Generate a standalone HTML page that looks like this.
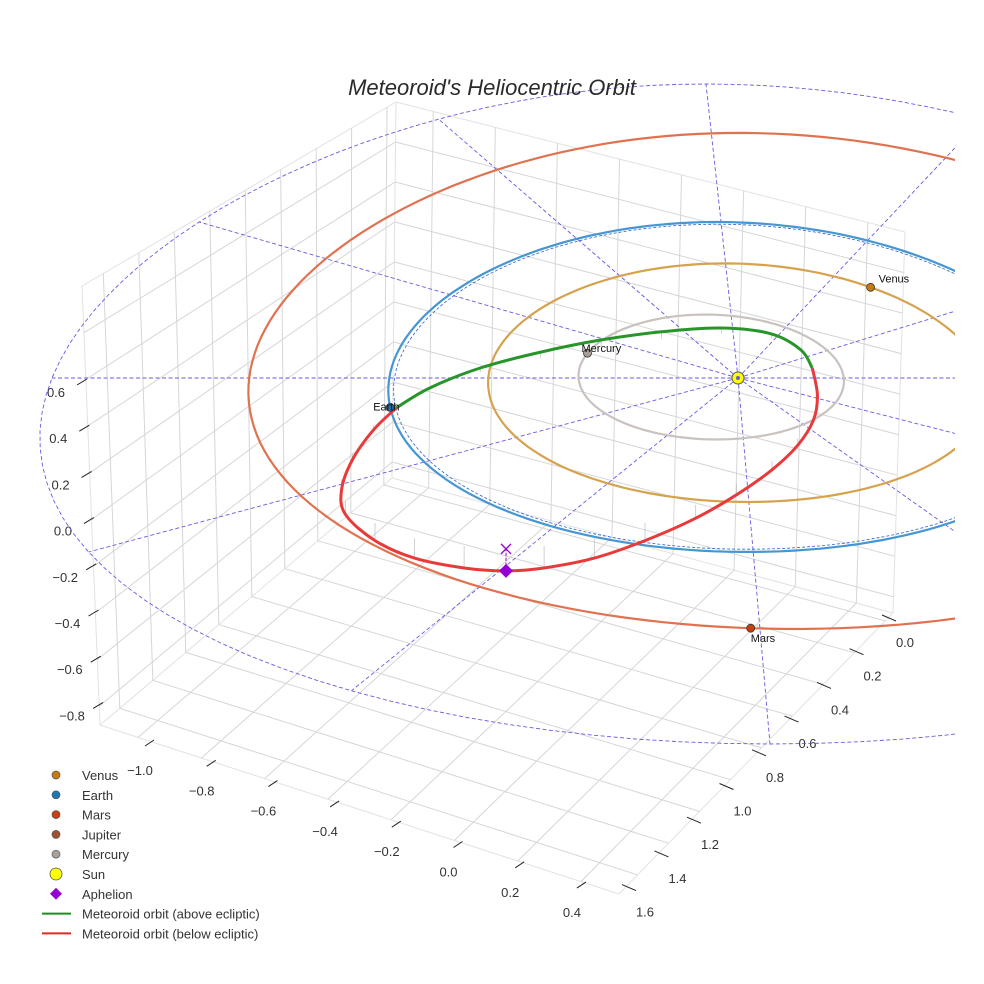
<!DOCTYPE html>
<html><head><meta charset="utf-8">
<style>
html,body{margin:0;padding:0;background:#fff;}
svg{display:block;font-family:"Liberation Sans",sans-serif;}
</style></head>
<body>
<svg id="chart" width="984" height="984" viewBox="0 0 984 984" xmlns="http://www.w3.org/2000/svg">
<defs><clipPath id="clipR"><rect x="0" y="0" width="955" height="984"/></clipPath></defs>
<rect x="0" y="0" width="984" height="984" fill="#fff"/>
<g id="box"></g>
<g id="ticks"></g>
<g id="plot" clip-path="url(#clipR)"></g>
<text x="492" y="95" text-anchor="middle" font-size="22" font-style="italic" fill="#2a2a2a">Meteoroid's Heliocentric Orbit</text>
<g id="legend"></g>
</svg>
<script>
// ---- axis data ----
const xTicks = [-1.0, -0.8, -0.6, -0.4, -0.2, 0.0, 0.2, 0.4];
const yTicks = [0.0, 0.2, 0.4, 0.6, 0.8, 1.0, 1.2, 1.4, 1.6];
const zTicks = [0.6, 0.4, 0.2, 0.0, -0.2, -0.4, -0.6, -0.8];
const zGrid = [-0.8, -0.6, -0.4, -0.2, 0.0, 0.2, 0.4, 0.6, 0.8];
// ---- planet data ----
const planetNames = ["Mercury", "Venus", "Earth", "Mars"];
const planetA = [0.387, 0.723, 1.0, 1.524];
const planetE = [0.2056, 0.0068, 0.0167, 0.0934];
const planetPeri = [350, 0, 0, 230];
const planetLon = [161, 52, 190, 269];
const orbitColors = ["#c9c2be", "#d6a24e", "#4596d2", "#e07250"];
const planetColors = ["#a89e98", "#c77a12", "#1f6fa8", "#c8400e"];
// ---- meteoroid orbit samples (ecliptic X, Y, Z in AU) ----
const metX = [-0.984,-0.895,-0.753,-0.578,-0.399,-0.218,-0.036,0.112,0.195,0.221,0.225,0.204,0.151,0.072,-0.031,-0.145,-0.282,-0.416,-0.547,-0.646,-0.756,-0.888,-0.997,-1.084,-1.105,-1.087,-1.041];
const metY = [-0.18,-0.074,0.034,0.118,0.193,0.243,0.274,0.244,0.157,0.06,-0.089,-0.225,-0.36,-0.49,-0.62,-0.74,-0.84,-0.925,-0.967,-0.983,-0.967,-0.925,-0.84,-0.72,-0.594,-0.446,-0.285];
const metZ = [0,0.01,0.02,0.03,0.03,0.03,0.025,0.02,0.01,0,-0.01,-0.02,-0.03,-0.04,-0.05,-0.06,-0.08,-0.09,-0.1,-0.1,-0.1,-0.09,-0.08,-0.06,-0.05,-0.03,-0.02];
const greenEnd = 9;
const aphelionIndex = 19;
const eclipticRadius = 2.0;
const radialAngles = [0,30,60,90,120,150,180,210,240,270,300,330];

const NS = "http://www.w3.org/2000/svg";
function mk(tag, attrs, parent){ const e=document.createElementNS(NS,tag); for(const k in attrs) e.setAttribute(k,attrs[k]); parent.appendChild(e); return e; }
function proj(X,Y,Z){ return [738 + 343*X*(1-0.12*Y) - 16*Y, 378 - 165*Y + 9*Y*Y - 220*Z]; }

// ---- box (bilinear faces) ----
const xmin=-1.12, xmax=0.52, ymin=-0.05, ymax=1.72, zmin=-0.88, zmax=1.0;
const L=[100,725], F=[619,894], R=[893,613], B=[392,478];
const Lt=[82,286], Bt=[396,102], Rt=[905,232];
function bil(p00,p10,p11,p01,u,v){ return [ (1-u)*(1-v)*p00[0]+u*(1-v)*p10[0]+u*v*p11[0]+(1-u)*v*p01[0], (1-u)*(1-v)*p00[1]+u*(1-v)*p10[1]+u*v*p11[1]+(1-u)*v*p01[1] ]; }
const fx = x=>(x-xmin)/(xmax-xmin), fy=y=>(ymax-y)/(ymax-ymin), fz=z=>(z-zmin)/(zmax-zmin);
function floorPt(x,y){ return bil(L,F,R,B,fx(x),fy(y)); }
function leftPt(y,z){ return bil(L,B,Bt,Lt,fy(y),fz(z)); }
function rightPt(x,z){ return bil(B,R,Rt,Bt,fx(x),fz(z)); }
const box=document.getElementById('box');
function gline(a,b,w,c){ const l=mk('line',{x1:a[0].toFixed(1),y1:a[1].toFixed(1),x2:b[0].toFixed(1),y2:b[1].toFixed(1),stroke:c||'#d6d6d6','stroke-width':w||1},box); return l; }
[[L,F],[F,R],[R,B],[B,L],[B,Bt],[L,Lt],[Lt,Bt],[R,Rt],[Rt,Bt]].forEach(s=>{ const l=gline(s[0],s[1],1,'#e2e2e2');   });
xTicks.forEach(x=>{
  const a=gline(floorPt(x,ymax),floorPt(x,ymin));
   
  const b=gline(rightPt(x,zmin),rightPt(x,zmax));
   
});
yTicks.forEach(y=>{
  const a=gline(floorPt(xmin,y),floorPt(xmax,y));
   
  const b=gline(leftPt(y,zmin),leftPt(y,zmax));
   
});
zGrid.forEach(z=>{
  const a=gline(leftPt(ymax,z),leftPt(ymin,z));
   
  const b=gline(rightPt(xmin,z),rightPt(xmax,z));
   
});

// ---- ticks and labels ----
const tk=document.getElementById('ticks');
function xLabelPos(v){ const t=(v+1.0)/0.2; return [140+t*61.7, 770+t*20.3]; }
function yLabelPos(v){ const t=v/0.2; return [905-t*32.5, 642+t*33.7]; }
function zLabelPos(v){ const t=(0.6-v)/0.2; return [56+t*2.3, 392+t*46.2]; }
xTicks.forEach(v=>{
  const p=xLabelPos(v);
  const l=mk('line',{x1:p[0]+5,y1:p[1]-24,x2:p[0]+14,y2:p[1]-30,stroke:'#222','stroke-width':1},tk);
   
  const t=mk('text',{x:p[0],y:p[1]+5,'text-anchor':'middle','font-size':13,fill:'#333'},tk);
  t.textContent=(v<0?'\u2212':'')+Math.abs(v).toFixed(1);
   
});
yTicks.forEach(v=>{
  const p=yLabelPos(v);
  const l=mk('line',{x1:p[0]-23,y1:p[1]-27,x2:p[0]-9,y2:p[1]-21,stroke:'#222','stroke-width':1},tk);
   
  const t=mk('text',{x:p[0],y:p[1]+5,'text-anchor':'middle','font-size':13,fill:'#333'},tk);
  t.textContent=v.toFixed(1);
   
});
zTicks.forEach(v=>{
  const p=zLabelPos(v);
  const l=mk('line',{x1:p[0]+21,y1:p[1]-7,x2:p[0]+31,y2:p[1]-13,stroke:'#222','stroke-width':1},tk);
   
  const t=mk('text',{x:p[0],y:p[1]+5,'text-anchor':'middle','font-size':13,fill:'#333'},tk);
  t.textContent=(v<0?'\u2212':'')+Math.abs(v).toFixed(1);
   
});

// ---- plot ----
const plot=document.getElementById('plot');
function pathFromPts(pts){ return pts.map((p,i)=>(i?'L':'M')+p[0].toFixed(1)+' '+p[1].toFixed(1)).join(' '); }
const circ=[]; for(let d=0; d<=360; d+=3){ const a=d*Math.PI/180; circ.push(proj(eclipticRadius*Math.cos(a),eclipticRadius*Math.sin(a),0)); }
const ec=mk('path',{d:pathFromPts(circ),fill:'none',stroke:'#6a5ae0','stroke-width':0.9,'stroke-dasharray':'4 2.5'},plot);
 
radialAngles.forEach(d=>{
  const a=d*Math.PI/180; const p0=proj(0,0,0), p1=proj(eclipticRadius*Math.cos(a),eclipticRadius*Math.sin(a),0);
  const l=mk('line',{x1:p0[0],y1:p0[1],x2:p1[0].toFixed(1),y2:p1[1].toFixed(1),stroke:'#6a5ae0','stroke-width':0.9,'stroke-dasharray':'4 2.5'},plot);
   
});
function orbitR(i,lonDeg){ const p=planetA[i]*(1-planetE[i]*planetE[i]); return p/(1+planetE[i]*Math.cos((lonDeg-planetPeri[i])*Math.PI/180)); }
planetNames.forEach((n,i)=>{
  const pts=[]; for(let d=0; d<=360; d+=2){ const r=orbitR(i,d), a=d*Math.PI/180; pts.push(proj(r*Math.cos(a),r*Math.sin(a),0)); }
  const o=mk('path',{d:pathFromPts(pts),fill:'none',stroke:orbitColors[i],'stroke-width':2.2},plot);
   
  if(n==='Earth'){
    const pts2=[]; for(let d=0; d<=360; d+=2){ const r=orbitR(i,d)*0.985, a=d*Math.PI/180; pts2.push(proj(r*Math.cos(a),r*Math.sin(a),0)); }
    const o2=mk('path',{d:pathFromPts(pts2),fill:'none',stroke:'#2a5fcf','stroke-width':0.8,'stroke-dasharray':'3 2'},plot);
     
  }
});
metX.forEach((x,i)=>{
  const a=proj(x,metY[i],metZ[i]), b=proj(x,metY[i],0);
  const l=mk('line',{x1:a[0].toFixed(1),y1:a[1].toFixed(1),x2:b[0].toFixed(1),y2:b[1].toFixed(1),stroke:'#bdbdbd','stroke-width':0.7},plot);
   
});
function smooth(pts){
  let d='M'+pts[0][0].toFixed(1)+' '+pts[0][1].toFixed(1);
  for(let i=0;i<pts.length-1;i++){
    const p0=pts[Math.max(0,i-1)],p1=pts[i],p2=pts[i+1],p3=pts[Math.min(pts.length-1,i+2)];
    const c1=[p1[0]+(p2[0]-p0[0])/6,p1[1]+(p2[1]-p0[1])/6], c2=[p2[0]-(p3[0]-p1[0])/6,p2[1]-(p3[1]-p1[1])/6];
    d+=' C'+c1[0].toFixed(1)+' '+c1[1].toFixed(1)+' '+c2[0].toFixed(1)+' '+c2[1].toFixed(1)+' '+p2[0].toFixed(1)+' '+p2[1].toFixed(1);
  }
  return d;
}
const allPts=metX.map((x,i)=>proj(x,metY[i],metZ[i]));
const greenPts=allPts.slice(0,greenEnd+1);
const redPts=allPts.slice(greenEnd).concat([allPts[0]]);
const gp=mk('path',{d:smooth(greenPts),fill:'none',stroke:'#27952a','stroke-width':3},plot);
 
const rp=mk('path',{d:smooth(redPts),fill:'none',stroke:'#e83a3a','stroke-width':3},plot);
 
const ap=proj(metX[aphelionIndex],metY[aphelionIndex],metZ[aphelionIndex]);
const ap0=proj(metX[aphelionIndex],metY[aphelionIndex],0);
const al=mk('line',{x1:ap[0],y1:ap[1],x2:ap0[0],y2:ap0[1],stroke:'#9400d3','stroke-width':1,'stroke-dasharray':'3 2'},plot);
 
const ax=mk('path',{d:`M${ap0[0]-5} ${ap0[1]-5} L${ap0[0]+5} ${ap0[1]+5} M${ap0[0]+5} ${ap0[1]-5} L${ap0[0]-5} ${ap0[1]+5}`,stroke:'#9400d3','stroke-width':1.3,fill:'none'},plot);
 
const ad=mk('path',{d:`M${ap[0]} ${ap[1]-7} L${ap[0]+7} ${ap[1]} L${ap[0]} ${ap[1]+7} L${ap[0]-7} ${ap[1]} Z`,fill:'#9400d3'},plot);
 
const labelOff={Mercury:[-6,-1],Venus:[8,-5],Earth:[-17,3],Mars:[0,14]};
planetNames.forEach((n,i)=>{
  const r=orbitR(i,planetLon[i]), a=planetLon[i]*Math.PI/180; const p=proj(r*Math.cos(a),r*Math.sin(a),0);
  const c=mk('circle',{cx:p[0].toFixed(1),cy:p[1].toFixed(1),r:4,fill:planetColors[i],stroke:'#333','stroke-width':0.8},plot);
   
  const t=mk('text',{x:(p[0]+labelOff[n][0]).toFixed(1),y:(p[1]+labelOff[n][1]).toFixed(1),'font-size':11,fill:'#111'},plot);
  t.textContent=n;
   
});
const sp=proj(0,0,0);
const sc=mk('circle',{cx:sp[0],cy:sp[1],r:6,fill:'#ffff00',stroke:'#555','stroke-width':1},plot);
 
const sc2=mk('circle',{cx:sp[0],cy:sp[1],r:2,fill:'#6a5ae0'},plot);
 

// ---- legend ----
const legendLabels=["Venus","Earth","Mars","Jupiter","Mercury","Sun","Aphelion","Meteoroid orbit (above ecliptic)","Meteoroid orbit (below ecliptic)"];
const legendKinds=["dot","dot","dot","dot","dot","sun","diamond","line","line"];
const legendColors=["#c77a12","#1f77b4","#c8400e","#a0522d","#aaa09a","#ffff00","#9400d3","#1e8f1e","#e02828"];
const lg=document.getElementById('legend');
legendLabels.forEach((lab,i)=>{
  const y=775+i*19.8, x=56;
  const g=mk('g',{},lg);
   
  if(legendKinds[i]==='dot') mk('circle',{cx:x,cy:y,r:4,fill:legendColors[i],stroke:'#555','stroke-width':0.7},g);
  else if(legendKinds[i]==='sun') mk('circle',{cx:x,cy:y,r:6,fill:legendColors[i],stroke:'#555','stroke-width':0.8},g);
  else if(legendKinds[i]==='diamond') mk('path',{d:`M${x} ${y-6} L${x+6} ${y} L${x} ${y+6} L${x-6} ${y} Z`,fill:legendColors[i]},g);
  else mk('line',{x1:42,y1:y,x2:71,y2:y,stroke:legendColors[i],'stroke-width':2},g);
  const t=mk('text',{x:82,y:y+5,'font-size':13,fill:'#333'},g);
  t.textContent=lab;
});
</script>
</body></html>
